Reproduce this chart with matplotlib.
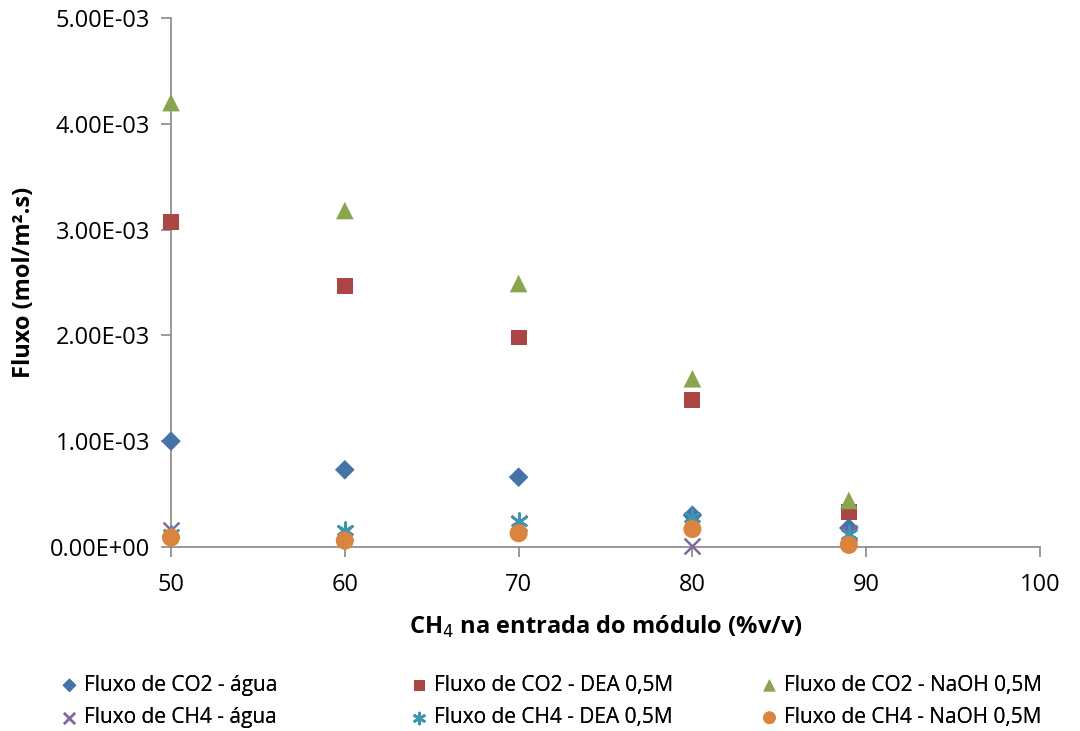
import numpy as np
import matplotlib.pyplot as plt

plt.rcParams['font.family'] = ['Open Sans', 'DejaVu Sans']

ch4_entrada = [50, 60, 70, 80, 89]
co2_agua = [1.00e-3, 0.73e-3, 0.66e-3, 0.30e-3, 0.18e-3]
co2_dea = [3.07e-3, 2.47e-3, 1.98e-3, 1.39e-3, 0.33e-3]
co2_naoh = [4.20e-3, 3.18e-3, 2.49e-3, 1.59e-3, 0.44e-3]
ch4_agua = [0.16e-3, 0.13e-3, 0.23e-3, 0.01e-3, 0.13e-3]
ch4_dea = [0.12e-3, 0.16e-3, 0.25e-3, 0.28e-3, 0.12e-3]
ch4_naoh = [0.09e-3, 0.06e-3, 0.13e-3, 0.17e-3, 0.02e-3]

x_ticks = [50, 60, 70, 80, 90, 100]
y_ticks = [0, 1e-3, 2e-3, 3e-3, 4e-3, 5e-3]
y_labels = ['0.00E+00', '1.00E-03', '2.00E-03', '3.00E-03', '4.00E-03', '5.00E-03']

fig = plt.figure(figsize=(10.8, 7.31), dpi=100)
ax = fig.add_axes([171/1080, 1 - 547/731, (1040-171)/1080, (547-18)/731])

series = [
    (co2_agua, 'D', '#4572A7', 'Fluxo de CO2 - água', 100),
    (co2_dea, 's', '#AA4643', 'Fluxo de CO2 - DEA 0,5M', 130),
    (co2_naoh, '^', '#89A54E', 'Fluxo de CO2 - NaOH 0,5M', 160),
    (ch4_agua, 'x', '#80699B', 'Fluxo de CH4 - água', 130),
    (ch4_dea, (6, 2, 0), '#3D96AE', 'Fluxo de CH4 - DEA 0,5M', 130),
    (ch4_naoh, 'o', '#DB843D', 'Fluxo de CH4 - NaOH 0,5M', 170),
]

handles = []
for vals, mk, col, lab, size in series:
    if mk == 'x' or isinstance(mk, tuple):
        h = ax.scatter(ch4_entrada, vals, marker=mk, s=size, color=col, linewidths=1.8,
                       label=lab, zorder=3, clip_on=False)
    else:
        h = ax.scatter(ch4_entrada, vals, marker=mk, s=size, color=col, edgecolors='none',
                       label=lab, zorder=3, clip_on=False)
    handles.append(h)

ax.set_xlim(50, 100)
ax.set_ylim(0, 5e-3)
ax.set_xticks(x_ticks)
ax.set_yticks(y_ticks)
ax.set_yticklabels(y_labels)
ax.tick_params(axis='both', labelsize=17, color='#888888', length=7, width=1.2)
ax.tick_params(axis='x', pad=12)
ax.tick_params(axis='y', pad=8)
for s in ['top', 'right']:
    ax.spines[s].set_visible(False)
for s in ['left', 'bottom']:
    ax.spines[s].set_color('#888888')
    ax.spines[s].set_linewidth(1.2)

ax.set_xlabel('CH$_4$ na entrada do módulo (%v/v)', fontsize=17, fontweight='bold', labelpad=12)
ax.set_ylabel('Fluxo (mol/m².s)', fontsize=17, fontweight='bold')
ax.yaxis.set_label_coords((36 - 171) / 869, 0.5)

# one legend per column, like the Excel layout
col_x = [58/1080, 408/1080, 758/1080]
for c in range(3):
    idx = [c, c + 3]
    leg = fig.legend([handles[i] for i in idx], [series[i][3] for i in idx],
                     loc='center left', bbox_to_anchor=(col_x[c], 1 - 701.5/731),
                     frameon=False, fontsize=15, handletextpad=0.15, markerscale=0.7,
                     labelspacing=0.55, handlelength=1.1, borderpad=0, borderaxespad=0)
    fig.add_artist(leg)

fig.savefig('out.png', dpi=100)
